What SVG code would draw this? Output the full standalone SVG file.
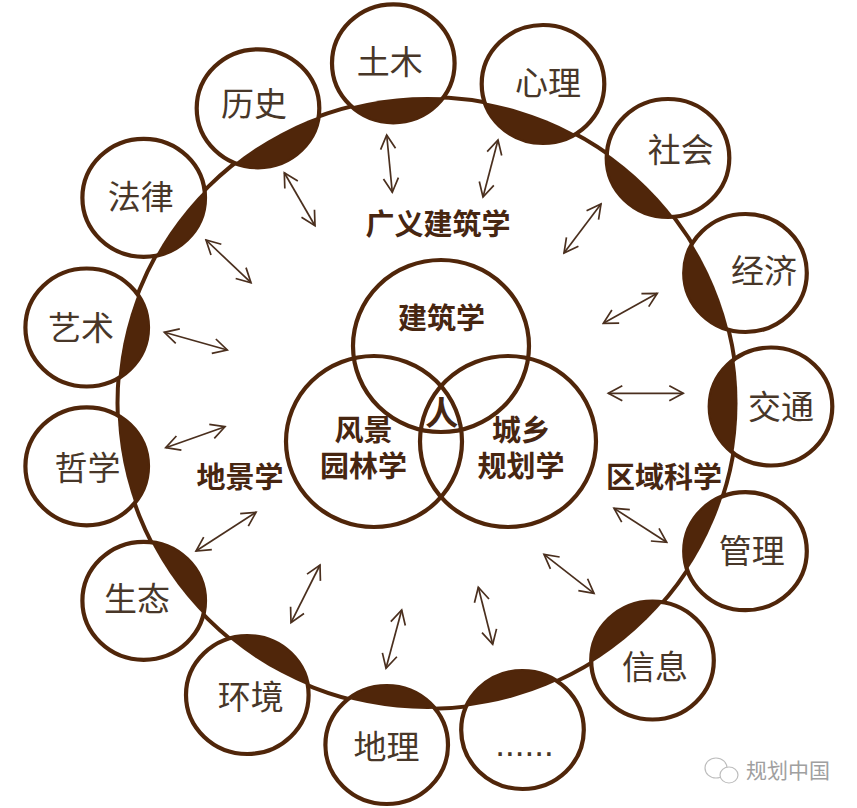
<svg xmlns="http://www.w3.org/2000/svg" width="857" height="808" viewBox="0 0 857 808">
<style>
.bg{fill:#fff}
.ring{fill:none;stroke:#50260a;stroke-width:4}
.sat{fill:#fff;stroke:#50260a;stroke-width:4.2}
.lens{fill:#50260a;clip-path:url(#inside)}
.venn{fill:none;stroke:#50260a;stroke-width:4.2}
.arrow{fill:none;stroke:#4a2f1e;stroke-width:1.7;marker-start:url(#v);marker-end:url(#v)}
text{font-family:"Noto Sans CJK SC","Liberation Sans",sans-serif;text-anchor:middle}
.lab{font-size:33px;font-weight:400;fill:#483729}
.bold{font-size:29px;font-weight:700;fill:#472611}
.dots{font-family:"Liberation Sans",sans-serif;font-size:35px;font-weight:400;fill:#483729}
.wm{font-size:21px;fill:#a0a0a0;text-anchor:start}
.icon{fill:#fff;stroke:#bdbdbd;stroke-width:1.2}
</style>
<defs>
<clipPath id="inside"><ellipse cx="427.5" cy="403" rx="310" ry="306"/></clipPath>
<marker id="v" viewBox="-16 -9 18 18" refX="0" refY="0" markerWidth="18" markerHeight="18" markerUnits="userSpaceOnUse" orient="auto-start-reverse">
<path d="M-14,-7.5 L0,0 L-14,7.5" fill="none" stroke="#4a2f1e" stroke-width="1.7"/>
</marker>
</defs>
<rect class="bg" width="857" height="808"/>
<ellipse id="outer-ring" class="ring" cx="427.5" cy="403" rx="310" ry="306"/>
<g id="connectors">
<path class="arrow" d="M386.7,135 L392.3,192.3"/>
<path class="arrow" d="M498,140 L483,197"/>
<path class="arrow" d="M601,204 L564,253"/>
<path class="arrow" d="M657.3,293.3 L603.3,323.3"/>
<path class="arrow" d="M608.3,393.3 L683.3,393.3"/>
<path class="arrow" d="M614,508.3 L666.7,542.3"/>
<path class="arrow" d="M544,554.3 L594,593.3"/>
<path class="arrow" d="M478.3,587.3 L492.7,644.3"/>
<path class="arrow" d="M401.7,610 L386,668.3"/>
<path class="arrow" d="M320,565 L291,622.7"/>
<path class="arrow" d="M256,512.3 L196,551"/>
<path class="arrow" d="M225,426.7 L165.7,447.7"/>
<path class="arrow" d="M164.3,332.3 L227.3,350"/>
<path class="arrow" d="M206,240 L251,282.7"/>
<path class="arrow" d="M284.3,172.7 L315,225.7"/>
</g>
<g id="n-tumu"><ellipse class="sat" cx="393.3" cy="63.3" rx="61.3" ry="59"/><ellipse class="lens" cx="393.3" cy="63.3" rx="61.3" ry="59"/><text class="lab" x="389.7" y="73.5">土木</text></g>
<g id="n-xinli"><ellipse class="sat" cx="543" cy="84" rx="61.3" ry="59"/><ellipse class="lens" cx="543" cy="84" rx="61.3" ry="59"/><text class="lab" x="548" y="94.5">心理</text></g>
<g id="n-shehui"><ellipse class="sat" cx="668" cy="158" rx="61.3" ry="59"/><ellipse class="lens" cx="668" cy="158" rx="61.3" ry="59"/><text class="lab" x="680.8" y="161.5">社会</text></g>
<g id="n-jingji"><ellipse class="sat" cx="745.5" cy="273" rx="61.3" ry="59"/><ellipse class="lens" cx="745.5" cy="273" rx="61.3" ry="59"/><text class="lab" x="764" y="283">经济</text></g>
<g id="n-jiaotong"><ellipse class="sat" cx="771" cy="406.5" rx="61.3" ry="59"/><ellipse class="lens" cx="771" cy="406.5" rx="61.3" ry="59"/><text class="lab" x="781" y="418.5">交通</text></g>
<g id="n-guanli"><ellipse class="sat" cx="745.5" cy="551.2" rx="61.3" ry="59"/><ellipse class="lens" cx="745.5" cy="551.2" rx="61.3" ry="59"/><text class="lab" x="751.7" y="563">管理</text></g>
<g id="n-xinxi"><ellipse class="sat" cx="652.5" cy="660.5" rx="61.3" ry="59"/><ellipse class="lens" cx="652.5" cy="660.5" rx="61.3" ry="59"/><text class="lab" x="655" y="678.5">信息</text></g>
<g id="n-etc"><ellipse class="sat" cx="522.5" cy="730" rx="61.3" ry="59"/><ellipse class="lens" cx="522.5" cy="730" rx="61.3" ry="59"/><text class="dots" x="524.5" y="756">......</text></g>
<g id="n-dili"><ellipse class="sat" cx="386.7" cy="745" rx="61.3" ry="59"/><ellipse class="lens" cx="386.7" cy="745" rx="61.3" ry="59"/><text class="lab" x="386.5" y="759">地理</text></g>
<g id="n-huanjing"><ellipse class="sat" cx="247.3" cy="695" rx="61.3" ry="59"/><ellipse class="lens" cx="247.3" cy="695" rx="61.3" ry="59"/><text class="lab" x="250.8" y="709">环境</text></g>
<g id="n-shengtai"><ellipse class="sat" cx="143.7" cy="600.8" rx="61.3" ry="59"/><ellipse class="lens" cx="143.7" cy="600.8" rx="61.3" ry="59"/><text class="lab" x="137" y="610.5">生态</text></g>
<g id="n-zhexue"><ellipse class="sat" cx="86.7" cy="466.3" rx="61.3" ry="59"/><ellipse class="lens" cx="86.7" cy="466.3" rx="61.3" ry="59"/><text class="lab" x="87.5" y="479.5">哲学</text></g>
<g id="n-yishu"><ellipse class="sat" cx="86.7" cy="327.5" rx="61.3" ry="59"/><ellipse class="lens" cx="86.7" cy="327.5" rx="61.3" ry="59"/><text class="lab" x="81" y="340">艺术</text></g>
<g id="n-falv"><ellipse class="sat" cx="143.7" cy="197.8" rx="61.3" ry="59"/><ellipse class="lens" cx="143.7" cy="197.8" rx="61.3" ry="59"/><text class="lab" x="140.8" y="208.5">法律</text></g>
<g id="n-lishi"><ellipse class="sat" cx="258" cy="108.3" rx="61.3" ry="59"/><ellipse class="lens" cx="258" cy="108.3" rx="61.3" ry="59"/><text class="lab" x="254" y="116">历史</text></g>
<g id="venn">
<ellipse id="v-jianzhu" class="venn" cx="441" cy="346" rx="88" ry="86"/>
<ellipse id="v-fengjing" class="venn" cx="374" cy="441.5" rx="88" ry="85.5"/>
<ellipse id="v-chengxiang" class="venn" cx="508" cy="441.5" rx="88" ry="85.5"/>
</g>
<g id="labels">
<text class="bold" x="438" y="235">广义建筑学</text>
<text class="bold" x="441.5" y="329">建筑学</text>
<text class="bold"><tspan x="363.5" y="441">风景</tspan><tspan x="363.5" y="476.5">园林学</tspan></text>
<text class="bold"><tspan x="521" y="441">城乡</tspan><tspan x="521" y="476.5">规划学</tspan></text>
<text class="bold" x="441.7" y="425" style="font-size:33px">人</text>
<text class="bold" x="240" y="487.5">地景学</text>
<text class="bold" x="664" y="487.5">区域科学</text>
</g>
<g id="watermark">
<ellipse class="icon" cx="716" cy="768" rx="11" ry="10"/>
<ellipse class="icon" cx="729" cy="775" rx="9" ry="8"/>
<text class="wm" x="746" y="778">规划中国</text>
</g>
</svg>
